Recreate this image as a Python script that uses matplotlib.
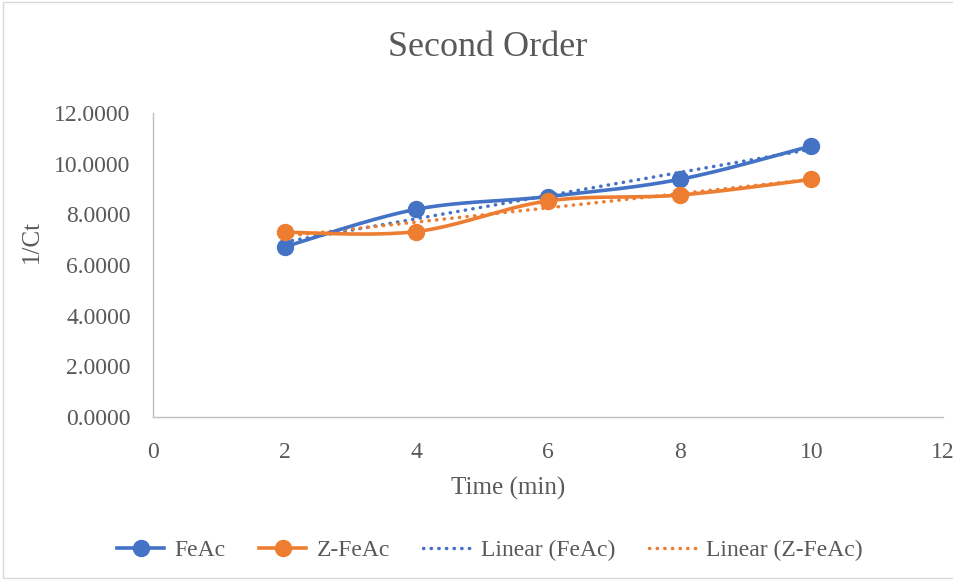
import numpy as np
import matplotlib.pyplot as plt
from matplotlib.patches import Rectangle

# Datos
time_min = [2, 4, 6, 8, 10]
feac = [6.72, 8.20, 8.70, 9.38, 10.70]
zfeac = [7.29, 7.32, 8.53, 8.76, 9.38]

blue = '#4472C4'
orange = '#ED7D31'
text_col = '#595959'
dots = (0, (0.1, 2.1))

plt.rcParams['font.family'] = ['Liberation Serif', 'DejaVu Serif']


# Curva suavizada tipo Excel (Catmull-Rom / Bezier)
def smooth(x, y, n=40):
    p = np.column_stack([x, y]).astype(float)
    p = np.vstack([p[0], p, p[-1]])
    out = []
    for i in range(1, len(p) - 2):
        p0, p1, p2, p3 = p[i - 1], p[i], p[i + 1], p[i + 2]
        c1 = p1 + (p2 - p0) / 6
        c2 = p2 - (p3 - p1) / 6
        t = np.linspace(0, 1, n)[:, None]
        seg = ((1 - t) ** 3) * p1 + 3 * ((1 - t) ** 2) * t * c1 + 3 * (1 - t) * t ** 2 * c2 + t ** 3 * p2
        out.append(seg)
    out = np.vstack(out)
    return out[:, 0], out[:, 1]


fig = plt.figure(figsize=(9.54, 5.80), dpi=100)
ax = fig.add_axes([153 / 954, 163 / 580, 790 / 954, 304 / 580])

for data, col in [(feac, blue), (zfeac, orange)]:
    sx, sy = smooth(time_min, data)
    ax.plot(sx, sy, color=col, lw=2.6, zorder=3)
    ax.plot(time_min, data, 'o', color=col, ms=11.5, zorder=4)

# Lineas de tendencia
xs = np.array([time_min[0], time_min[-1]])
for data, col in [(feac, blue), (zfeac, orange)]:
    m, b = np.polyfit(time_min, data, 1)
    ax.plot(xs, m * xs + b, color=col, lw=2.5, linestyle=dots,
            dash_capstyle='round', zorder=2)

ax.set_xlim(0, 12)
ax.set_ylim(0, 12)
ax.set_xticks(range(0, 13, 2))
ax.set_yticks(range(0, 13, 2))
ax.set_yticklabels([f'{v:.4f}' for v in range(0, 13, 2)])
ax.tick_params(length=0, labelsize=17, colors=text_col)
ax.tick_params(axis='y', pad=16)
ax.tick_params(axis='x', pad=18)
for s in ['top', 'right']:
    ax.spines[s].set_visible(False)
for s in ['left', 'bottom']:
    ax.spines[s].set_color('#bfbfbf')
    ax.spines[s].set_linewidth(1.0)

ax.set_xlabel('Time (min)', fontsize=18, color=text_col)
ax.xaxis.set_label_coords((508 - 153) / 790, (417 - 488) / 304)
ax.xaxis.label.set_va('center')
ax.set_ylabel('1/Ct', fontsize=18, color=text_col)
ax.yaxis.set_label_coords((32 - 153) / 790, (417 - 242) / 304)
ax.yaxis.label.set_va('center')
fig.text(488 / 954, 1 - 48 / 580, 'Second Order', fontsize=26, color=text_col,
         ha='center', va='center')

# Leyenda
h = [
    plt.Line2D([], [], color=blue, lw=2.6, marker='o', ms=11.5),
    plt.Line2D([], [], color=orange, lw=2.6, marker='o', ms=11.5),
    plt.Line2D([], [], color=blue, lw=2.5, linestyle=dots, dash_capstyle='round'),
    plt.Line2D([], [], color=orange, lw=2.5, linestyle=dots, dash_capstyle='round'),
]
labels = ['FeAc', 'Z-FeAc', 'Linear (FeAc)', 'Linear (Z-FeAc)']
leg = fig.legend(h, labels, loc='center', bbox_to_anchor=(490 / 954, 1 - 550 / 580),
                 ncol=4, frameon=False, fontsize=17, handlelength=2.0,
                 handletextpad=0.45, columnspacing=1.4)
for t in leg.get_texts():
    t.set_color(text_col)

fig.patches.append(Rectangle((3 / 954, 2 / 580), 1.0, 576 / 580, transform=fig.transFigure,
                             fill=False, edgecolor='#d9d9d9', lw=1.0))

fig.savefig('out.png', dpi=100)
